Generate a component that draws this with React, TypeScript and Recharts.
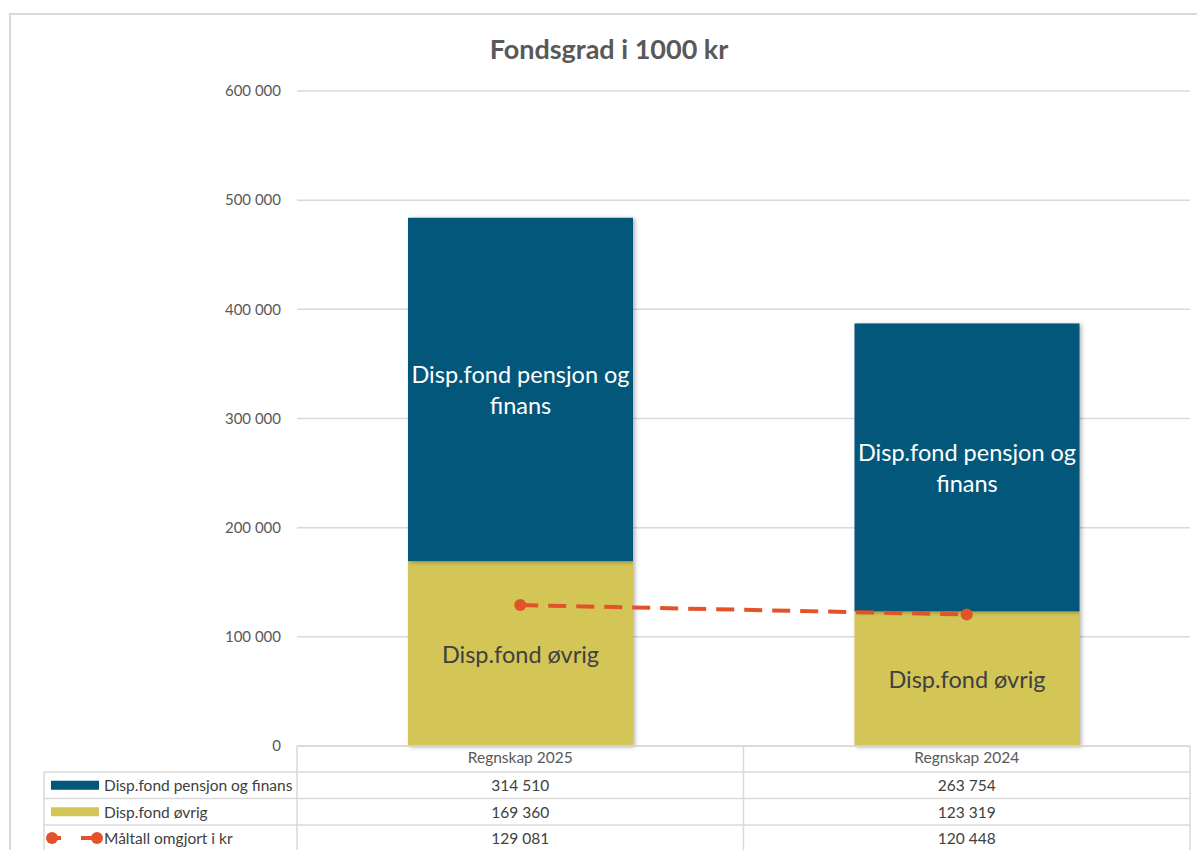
import React from 'react';
import { ComposedChart, Bar, Line, XAxis, YAxis, CartesianGrid, LabelList } from 'recharts';

const categories = ['Regnskap 2025', 'Regnskap 2024'];
const pensjonFinans = [314510, 263754];
const ovrig = [169360, 123319];
const maltall = [129081, 120448];
const yTicks = [0, 100000, 200000, 300000, 400000, 500000, 600000];
const seriesNames = ['Disp.fond pensjon og finans', 'Disp.fond øvrig', 'Måltall omgjort i kr'];
const pfLabelLines = ['Disp.fond pensjon og', 'finans'];
const ovLabelLines = ['Disp.fond øvrig'];
const title = 'Fondsgrad i 1000 kr';

const data = categories.map((c, i) => ({ name: c, pf: pensjonFinans[i], ov: ovrig[i], m: maltall[i] }));

const BLUE = '#03577A';
const YELLOW = '#D4C557';
const ORANGE = '#E2532A';
const GRID = '#d9d9d9';
const TEXT = '#595959';
const FONT = 'Lato, "Open Sans", sans-serif';

const fmt = (v: number) => String(v).replace(/\B(?=(\d{3})+(?!\d))/g, ' ');

const W = 1197;
const H = 850;
const PLOT_LEFT = 297;
const PLOT_RIGHT = 1190;
const PLOT_TOP = 91;
const PLOT_BOTTOM = 746;
const Y_AXIS_W = 80;
const X_AXIS_H = 26;

const makeLabel = (lines: string[], color: string) => (props: any) => {
  const { x, y, width, height } = props;
  const cx = Number(x) + Number(width) / 2;
  const cy = Number(y) + Number(height) / 2;
  const lh = 31;
  const start = cy - ((lines.length - 1) * lh) / 2;
  return (
    <text textAnchor="middle" fill={color} fontSize={23.5} fontFamily={FONT}>
      {lines.map((l, i) => (
        <tspan key={i} x={cx} y={start + i * lh} dominantBaseline="central">
          {l}
        </tspan>
      ))}
    </text>
  );
};

const shadowShape = (p: any) => (
  <rect
    x={p.x}
    y={p.y}
    width={p.width}
    height={p.height}
    fill={p.fill}
    style={{ filter: 'drop-shadow(2px 1px 2px rgba(0,0,0,0.3))' }}
  />
);

function Table() {
  const colEdges = [PLOT_LEFT, (PLOT_LEFT + PLOT_RIGHT) / 2, PLOT_RIGHT];
  const rowEdges = [772, 798.5, 825, 851];
  const legendLeft = 44;
  const rows = [pensjonFinans, ovrig, maltall];
  return (
    <svg width={W} height={H} style={{ position: 'absolute', left: 0, top: 0, pointerEvents: 'none' }}>
      <rect x={10} y={14} width={1200} height={860} fill="none" stroke="#d9d9d9" strokeWidth={2} />
      <text x={609} y={48} textAnchor="middle" dominantBaseline="central" fontFamily={FONT} fontWeight={700} fontSize={27} fill={TEXT}>
        {title}
      </text>
      {colEdges.map((x, i) => (
        <line key={'v' + i} x1={x} x2={x} y1={PLOT_BOTTOM} y2={H} stroke={GRID} strokeWidth={1.5} />
      ))}
      <line x1={legendLeft} x2={legendLeft} y1={rowEdges[0]} y2={H} stroke={GRID} strokeWidth={1.5} />
      <line x1={PLOT_LEFT} x2={PLOT_RIGHT} y1={PLOT_BOTTOM} y2={PLOT_BOTTOM} stroke={GRID} strokeWidth={1.5} />
      {rowEdges.slice(0, 3).map((y, i) => (
        <line key={'h' + i} x1={legendLeft} x2={PLOT_RIGHT} y1={y} y2={y} stroke={GRID} strokeWidth={1.5} />
      ))}
      {rows.map((vals, r) => {
        const cy = (rowEdges[r] + rowEdges[r + 1]) / 2;
        return (
          <g key={'r' + r}>
            {r === 0 && <rect x={51} y={cy - 4.5} width={48} height={9} fill={BLUE} />}
            {r === 1 && <rect x={51} y={cy - 4.5} width={48} height={9} fill={YELLOW} />}
            {r === 2 && (
              <g>
                <line x1={52} x2={97} y1={cy} y2={cy} stroke={ORANGE} strokeWidth={4} strokeDasharray="9 20 30" />
                <circle cx={52} cy={cy} r={6} fill={ORANGE} />
                <circle cx={97} cy={cy} r={6} fill={ORANGE} />
              </g>
            )}
            <text x={104} y={cy} dominantBaseline="central" fontFamily={FONT} fontSize={15.5} fill="#404040">
              {seriesNames[r]}
            </text>
            {vals.map((v, c) => (
              <text
                key={c}
                x={(colEdges[c] + colEdges[c + 1]) / 2}
                y={cy}
                textAnchor="middle"
                dominantBaseline="central"
                fontFamily={FONT}
                fontSize={15.5}
                fill="#404040"
              >
                {fmt(v)}
              </text>
            ))}
          </g>
        );
      })}
    </svg>
  );
}

export default function App() {
  return (
    <div style={{ position: 'absolute', left: 0, top: 0, width: W, height: H, background: '#fff', overflow: 'hidden' }}>
      <ComposedChart
        width={W}
        height={H}
        data={data}
        margin={{ top: PLOT_TOP, right: W - PLOT_RIGHT, bottom: H - PLOT_BOTTOM - X_AXIS_H, left: PLOT_LEFT - Y_AXIS_W }}
        barCategoryGap={0}
      >
        <CartesianGrid vertical={false} stroke={GRID} strokeWidth={1.5} />
        <XAxis
          dataKey="name"
          height={X_AXIS_H}
          axisLine={false}
          tickLine={false}
          tickSize={0}
          tickMargin={6}
          tick={{ fill: TEXT, fontSize: 15.5, fontFamily: FONT }}
        />
        <YAxis
          width={Y_AXIS_W}
          domain={[0, 600000]}
          ticks={yTicks}
          interval={0}
          axisLine={false}
          tickLine={false}
          tickSize={0}
          tickMargin={16}
          tickFormatter={(v: number) => fmt(v)}
          tick={{ fill: TEXT, fontSize: 15, fontFamily: FONT }}
        />
        <Bar dataKey="ov" stackId="s" fill={YELLOW} barSize={225} isAnimationActive={false} shape={shadowShape}>
          <LabelList dataKey="ov" content={makeLabel(ovLabelLines, '#404040')} />
        </Bar>
        <Bar dataKey="pf" stackId="s" fill={BLUE} barSize={225} isAnimationActive={false} shape={shadowShape}>
          <LabelList dataKey="pf" content={makeLabel(pfLabelLines, '#ffffff')} />
        </Bar>
        <Line
          dataKey="m"
          type="linear"
          stroke={ORANGE}
          strokeWidth={4}
          strokeDasharray="18 10"
          dot={{ r: 6, fill: ORANGE, stroke: ORANGE, strokeWidth: 0 }}
          activeDot={false}
          isAnimationActive={false}
        />
      </ComposedChart>
      <Table />
    </div>
  );
}
